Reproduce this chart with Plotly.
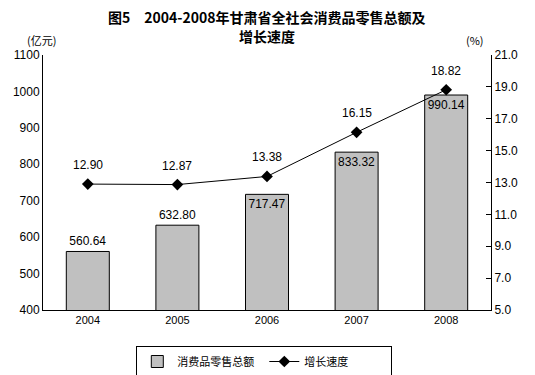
import plotly.graph_objects as go

years = ["2004", "2005", "2006", "2007", "2008"]
sales = [560.64, 632.80, 717.47, 833.32, 990.14]
growth = [12.90, 12.87, 13.38, 16.15, 18.82]
sales_labels = ["560.64", "632.80", "717.47", "833.32", "990.14"]
growth_labels = ["12.90", "12.87", "13.38", "16.15", "18.82"]
bar_text_pos = ["outside", "outside", "inside", "inside", "inside"]

font_num = "Liberation Sans, Arial, sans-serif"
font_cjk = "Noto Sans CJK SC, sans-serif"

fig = go.Figure()
fig.add_trace(go.Bar(
    x=years, y=sales, name="消费品零售总额",
    marker=dict(color="#C0C0C0", line=dict(color="black", width=1)),
    width=0.48,
    text=sales_labels, textposition=bar_text_pos, insidetextanchor="end",
    textangle=0,
    textfont=dict(family=font_num, size=12, color="black"),
    cliponaxis=False,
))
fig.add_trace(go.Scatter(
    x=years, y=growth, name="增长速度", yaxis="y2",
    mode="lines+markers",
    line=dict(color="black", width=1),
    marker=dict(symbol="diamond", size=9, color="black"),
    cliponaxis=False,
))

annotations = [
    dict(text="<b>图5　2004-2008年甘肃省全社会消费品零售总额及</b>",
         x=0.5, y=(302 - 9) / 255, xref="paper", yref="paper",
         xanchor="center", yanchor="middle", showarrow=False,
         font=dict(family=font_cjk, size=14, color="black")),
    dict(text="<b>增长速度</b>",
         x=0.5, y=(302 - 28) / 255, xref="paper", yref="paper",
         xanchor="center", yanchor="middle", showarrow=False,
         font=dict(family=font_cjk, size=14, color="black")),
    dict(text="(亿元)", x=(33 - 35) / 448, y=(302 - 32) / 255, xref="paper", yref="paper",
         xanchor="center", yanchor="middle", showarrow=False,
         font=dict(family=font_cjk, size=11, color="black")),
    dict(text="(%)", x=(467 - 35) / 448, y=(302 - 32) / 255, xref="paper", yref="paper",
         xanchor="center", yanchor="middle", showarrow=False,
         font=dict(family=font_cjk, size=11, color="black")),
]
for i, (g, lab) in enumerate(zip(growth, growth_labels)):
    annotations.append(dict(
        text=lab, x=i, y=g, xref="x", yref="y2", yshift=19,
        xanchor="center", yanchor="middle", showarrow=False,
        font=dict(family=font_num, size=12, color="black"),
    ))

fig.update_layout(
    width=527, height=367,
    margin=dict(l=35, r=44, t=47, b=65, autoexpand=False),
    paper_bgcolor="white", plot_bgcolor="white",
    showlegend=True,
    xaxis=dict(
        type="category",
        showline=True, linecolor="black", linewidth=1,
        ticks="", tickfont=dict(family=font_num, size=11, color="black"),
        showgrid=False,
    ),
    yaxis=dict(
        range=[400, 1100], dtick=100,
        showline=True, linecolor="black", linewidth=1,
        ticks="", showgrid=False, zeroline=False,
        tickfont=dict(family=font_num, size=12, color="black"),
    ),
    yaxis2=dict(
        range=[5, 21], tick0=5, dtick=2, tickformat=".1f",
        overlaying="y", side="right",
        showline=True, linecolor="black", linewidth=1,
        ticks="inside", ticklen=5, tickcolor="black",
        showgrid=False, zeroline=False,
        tickfont=dict(family=font_num, size=12, color="black"),
    ),
    legend=dict(
        orientation="h", x=0.494, xanchor="center",
        yref="container", y=1 - 338 / 367, yanchor="top",
        bordercolor="black", borderwidth=1,
        font=dict(family=font_cjk, size=11, color="black"),
        traceorder="normal", entrywidth=82, tracegroupgap=0,
    ),
    annotations=annotations,
)

fig.write_html("out.html")
